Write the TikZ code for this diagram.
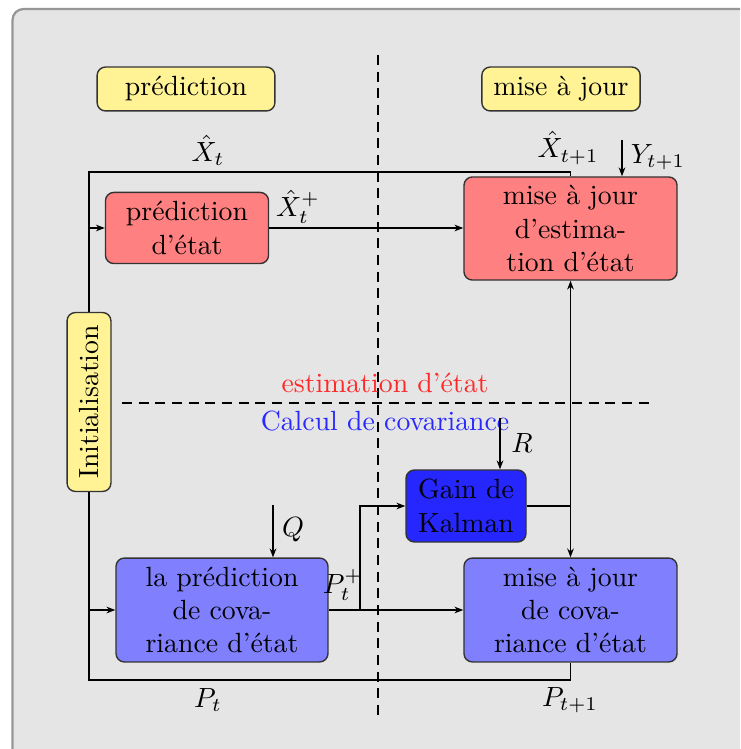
\documentclass[tikz,border=0pt]{standalone}
\usetikzlibrary{arrows.meta}
\definecolor{bggray}{RGB}{229,229,229}
\definecolor{framegray}{RGB}{150,150,150}
\definecolor{tagyellow}{RGB}{255,243,150}
\definecolor{statered}{RGB}{255,128,128}
\definecolor{covblue}{RGB}{128,128,255}
\definecolor{gainblue}{RGB}{38,38,255}
\definecolor{labred}{RGB}{255,40,40}
\definecolor{labblue}{RGB}{40,40,255}
\begin{document}
\begin{tikzpicture}[x=0.36pt,y=-0.36pt,
  box/.style={draw=black!80, rounded corners=3pt, align=center, inner sep=0pt, line width=0.5pt},
  tag/.style={box, fill=tagyellow},
  wire/.style={line width=0.5pt},
  arr/.style={wire, -{Stealth[length=3.2pt,width=2.4pt]}},
  sep/.style={dash pattern=on 3.6pt off 2.4pt, line width=0.5pt},
  lab/.style={inner sep=0pt}
]
\useasboundingbox (0,0) rectangle (740,749);
\begin{scope}
  \clip (0,0) rectangle (740,749);
  \fill[white] (0,0) rectangle (740,749);
  \path[fill=bggray, draw=framegray, line width=0.8pt, rounded corners=4pt]
    (12.5,9) rectangle (800,800);
\end{scope}

% separators between the phases and between the two computations
\draw[sep] (378,55) -- (378,715);
\draw[sep] (122,403) -- (650,403);
\node[lab, text=labred] (lest) at (385,383) {estimation d'état};
\node[lab, text=labblue] (lcov) at (385,421) {Calcul de covariance};

% phase tags
\node[tag, minimum width=64pt, minimum height=15.8pt] (tpred) at (186,89) {prédiction};
\node[tag, minimum width=57pt, minimum height=15.8pt] (tupd) at (561,89) {mise à jour};

% state estimation blocks
\node[box, fill=statered, minimum width=58.7pt, minimum height=25.6pt] (xpred) at (187,228) {prédiction\\d'état};
\node[box, fill=statered, minimum width=76.7pt, minimum height=37.1pt] (xupd) at (570.5,228.5) {mise à jour\\d'estima-\\tion d'état};

% covariance blocks
\node[box, fill=gainblue, minimum width=43.2pt, minimum height=25.9pt] (gain) at (466,506) {Gain de\\Kalman};
\node[box, fill=covblue, minimum width=76.3pt, minimum height=37.4pt] (ppred) at (222,610) {la prédiction\\de cova-\\riance d'état};
\node[box, fill=covblue, minimum width=76.7pt, minimum height=37.4pt] (pupd) at (570.5,610) {mise à jour\\de cova-\\riance d'état};

% feedback loop
\coordinate (loopTL) at (89,172);
\coordinate (loopBL) at (89,680);
\draw[wire] (xupd.north) |- (loopTL) -- (loopBL) -| (pupd.south);
\node[tag, rotate=90, minimum width=64.4pt, minimum height=15.8pt] (init) at (89,402) {Initialisation};

% state path
\draw[arr] (xpred.west -| loopTL) -- (xpred.west);
\draw[arr] (xpred.east) -- (xpred.east -| xupd.west);

% covariance path
\draw[arr] (ppred.west -| loopTL) -- (ppred.west);
\draw[arr] (ppred.east) -- (pupd.west);
\coordinate (br) at (360,610);
\draw[arr] (br) |- (gain.west);
\coordinate (gj) at (570.5,506);
\draw[wire] (gain.east) -- (gj);
\draw[arr] (gj) -- (xupd.south);
\draw[arr] (gj) -- (pupd.north);

% external inputs
\coordinate (ysrc) at (622,140);
\draw[arr] (ysrc) -- (ysrc |- xupd.north);
\coordinate (rsrc) at (500,418);
\draw[arr] (rsrc) -- (rsrc |- gain.north);
\coordinate (qsrc) at (273,505);
\draw[arr] (qsrc) -- (qsrc |- ppred.north);

% signal labels
\node[lab] (lxt) at (208,150) {$\hat{X}_t$};
\node[lab] (lxt1) at (568,148) {$\hat{X}_{t+1}$};
\node[lab] (lxtp) at (298,207) {$\hat{X}_t^+$};
\node[lab] (ly) at (658,157) {$Y_{t+1}$};
\node[lab] (lr) at (522,443) {$R$};
\node[lab] (lq) at (293,530) {$Q$};
\node[lab] (lpp) at (343,585) {$P_t^+$};
\node[lab] (lpt) at (208,700) {$P_t$};
\node[lab] (lpt1) at (570,700) {$P_{t+1}$};
\end{tikzpicture}
\end{document}
